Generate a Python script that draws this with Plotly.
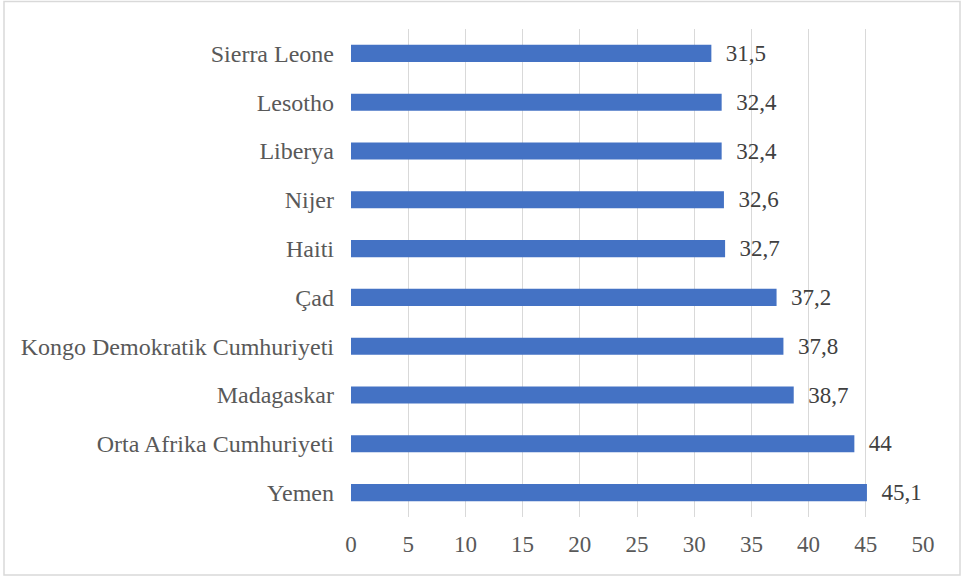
import plotly.graph_objects as go

countries = ["Sierra Leone", "Lesotho", "Liberya", "Nijer", "Haiti", "Çad",
             "Kongo Demokratik Cumhuriyeti", "Madagaskar",
             "Orta Afrika Cumhuriyeti", "Yemen"]
values = [31.5, 32.4, 32.4, 32.6, 32.7, 37.2, 37.8, 38.7, 44, 45.1]
x_ticks = [0, 5, 10, 15, 20, 25, 30, 35, 40, 45, 50]

labels = ["\u00a0\u00a0" + (str(v).replace(".", ",") if v != int(v) else str(int(v))) for v in values]

FONT = "'Times New Roman', 'Liberation Serif', Times, serif"

fig = go.Figure(go.Bar(
    x=values, y=countries, orientation="h",
    marker=dict(color="#4472C4", line=dict(width=0)),
    width=0.35,
    text=labels, textposition="outside", cliponaxis=False, constraintext="none",
    textfont=dict(family=FONT, size=23, color="#404040"),
))

L, R, T, B = 351, 41, 29, 60
W, H = 964, 577
pw, ph = W - L - R, H - T - B

def px(x):
    return (x - L) / pw

def py(y):
    return (H - B - y) / ph

fig.update_layout(
    width=W, height=H,
    margin=dict(l=L, r=R, t=T, b=B, autoexpand=False),
    plot_bgcolor="white", paper_bgcolor="white",
    showlegend=False,
    font=dict(family=FONT, size=22, color="#595959"),
    xaxis=dict(range=[0, 50], tickvals=x_ticks, showgrid=True, gridcolor="#d9d9d9",
               gridwidth=1.3, zeroline=False, showline=False, ticks="",
               ticklabelstandoff=11, tickfont=dict(family=FONT, size=23, color="#595959")),
    yaxis=dict(categoryorder="array", categoryarray=countries, autorange="reversed",
               showgrid=False, zeroline=False, showline=False, ticks="",
               ticklabelstandoff=16, tickfont=dict(family=FONT, size=24, color="#595959")),
    shapes=[dict(type="rect", xref="paper", yref="paper",
                 x0=px(4), x1=px(960), y0=py(575), y1=py(1.5),
                 line=dict(color="#d9d9d9", width=1.5), fillcolor="rgba(0,0,0,0)")],
)

fig.write_html("out.html", config={"displayModeBar": False},
               post_script="document.body.style.margin='0';")
